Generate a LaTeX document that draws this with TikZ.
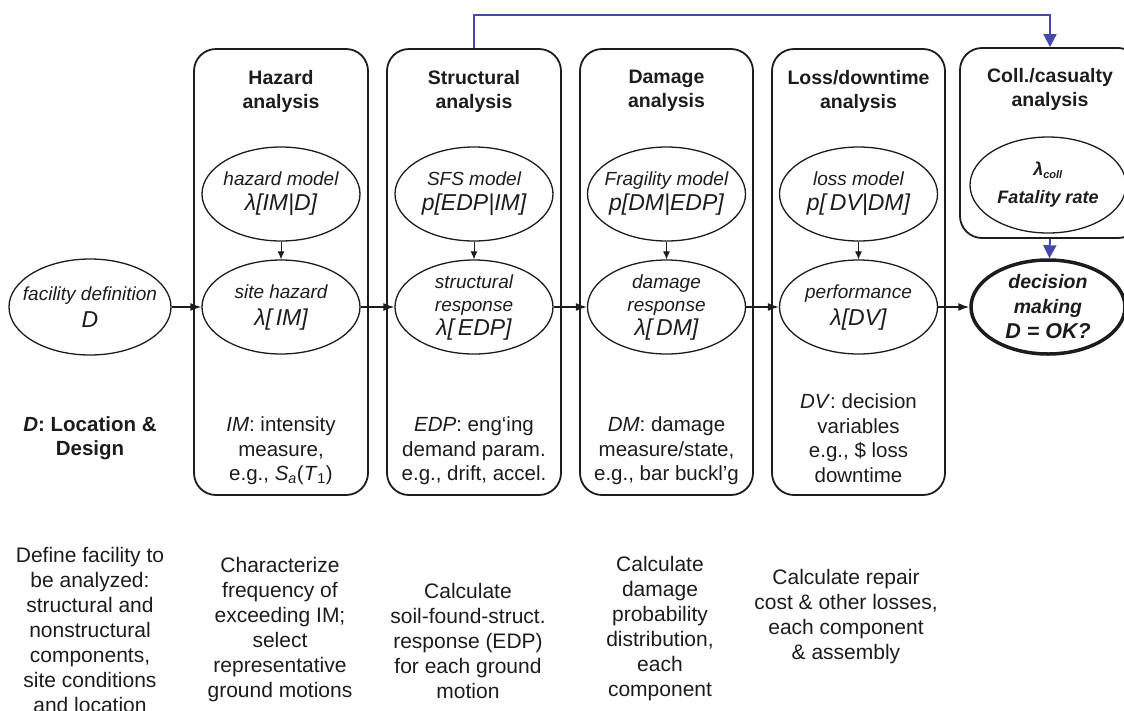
\documentclass[tikz,border=0pt]{standalone}
\usepackage{fontspec}
\setmainfont{Liberation Sans}
\usetikzlibrary{arrows.meta,shapes.geometric}
\definecolor{ink}{RGB}{28,28,28}
\definecolor{linkblue}{RGB}{72,72,170}

\newcommand{\bg}[1]{{\fontsize{23}{26}\selectfont #1}}

\begin{document}
\begin{tikzpicture}[x=1pt,y=-1pt,
  stage/.style={draw=ink, line width=1.8pt, rounded corners=22pt, rectangle, inner sep=0pt},
  oval/.style={draw=ink, line width=1.3pt, ellipse, inner sep=0pt,
               minimum width=158pt, minimum height=94pt},
  inoval/.style={font=\fontsize{19}{25}\selectfont\itshape, text=ink, align=center, inner sep=0pt},
  boldoval/.style={font=\fontsize{19.5}{25}\selectfont\bfseries\itshape, text=ink, align=center, inner sep=0pt},
  heading/.style={font=\fontsize{19.5}{24}\selectfont\bfseries, text=ink, align=center, inner sep=0pt},
  note/.style={font=\fontsize{20.5}{24.5}\selectfont, text=ink, align=center, inner sep=0pt},
  task/.style={font=\fontsize{21}{25}\selectfont, text=ink, align=center, inner sep=0pt},
  flow/.style={draw=ink, line width=1.4pt, -{Latex[length=11pt,width=8pt]}},
  drop/.style={draw=ink, line width=1pt, -{Latex[length=8pt,width=7pt]}},
  link/.style={draw=linkblue, line width=1.8pt, -{Triangle[length=13pt,width=13pt]}}
]
\useasboundingbox (0,0) rectangle (1124,710);

% analysis stages
\node[stage, minimum width=174pt, minimum height=446pt] (hbox) at (281,272) {};
\node[stage, minimum width=174pt, minimum height=446pt] (sbox) at (474,272) {};
\node[stage, minimum width=173pt, minimum height=446pt] (dbox) at (666.5,272) {};
\node[stage, minimum width=173pt, minimum height=446pt] (lbox) at (858.5,272) {};
\node[stage, minimum width=180pt, minimum height=190pt] (cbox) at (1050,143) {};

% stage headings
\node[heading] (ht) at (281,91) {Hazard\\analysis};
\node[heading] (st) at (474,91) {Structural\\analysis};
\node[heading] (dt) at (666.5,91) {Damage\\analysis};
\node[heading] (lt) at (858.5,91) {Loss/downtime\\analysis};
\node[heading] (ct) at (1050,89) {Coll./casualty\\analysis};

% model ellipses
\node[oval] (hm) at (281,194) {};
\node[inoval] (hmt) at (hm.center) {hazard model\\\bg{λ[IM|D]}};
\node[oval] (sfs) at (474,194) {};
\node[inoval] (sfst) at (sfs.center) {SFS model\\\bg{p[EDP|IM]}};
\node[oval] (fm) at (666.5,194) {};
\node[inoval] (fmt) at (fm.center) {Fragility model\\\bg{p[DM|EDP]}};
\node[oval] (lm) at (858.5,194) {};
\node[inoval] (lmt) at (lm.center) {loss model\\\bg{p[\,DV|DM]}};
\node[oval, minimum width=156pt, minimum height=96pt] (cl) at (1048,185) {};
\node[boldoval, font=\fontsize{18}{28}\selectfont\bfseries\itshape] (clt) at (cl.center)
  {λ\textsubscript{\fontsize{11}{12}\selectfont coll}\\Fatality rate};

% response ellipses
\node[oval, minimum width=162pt, minimum height=96pt] (fac) at (90,307) {};
\node[inoval, font=\fontsize{19}{27}\selectfont\itshape] (fact) at (fac.center) {facility definition\\\bg{D}};
\node[oval] (sh) at (281,307) {};
\node[inoval, font=\fontsize{19}{27}\selectfont\itshape] (sht) at (sh.center) {site hazard\\\bg{λ[\,IM]}};
\node[oval] (sr) at (474,307) {};
\node[inoval, font=\fontsize{19}{23.5}\selectfont\itshape] (srt) at (sr.center) {structural\\response\\\bg{λ[\,EDP]}};
\node[oval] (dr) at (666.5,307) {};
\node[inoval, font=\fontsize{19}{23.5}\selectfont\itshape] (drt) at (dr.center) {damage\\response\\\bg{λ[\,DM]}};
\node[oval] (pf) at (858.5,307) {};
\node[inoval, font=\fontsize{19}{27}\selectfont\itshape] (pft) at (pf.center) {performance\\\bg{λ[DV]}};
\node[oval, line width=3.5pt, minimum width=154pt, minimum height=94pt] (dec) at (1048,307) {};
\node[boldoval] (dect) at (dec.center)
  {decision\\making\\{\fontsize{21.5}{25}\selectfont D = OK?}};

% variable notes
\node[note, font=\fontsize{20.5}{24.5}\selectfont\bfseries] (dn) at (90,438) {\textit{D}: Location \&\\Design};
\node[note] (hn) at (281,451) {\textit{IM}: intensity\\measure,\\e.g., \textit{S}\textsubscript{\textit{a}}(\textit{T}\textsubscript{1})};
\node[note] (sn) at (474,451) {\textit{EDP}: eng‘ing\\demand param.\\e.g., drift, accel.};
\node[note] (dnn) at (666.5,451) {\textit{DM}: damage\\measure/state,\\e.g., bar buckl’g};
\node[note] (ln) at (858.5,438) {\textit{DV}: decision\\variables\\e.g., \$ loss\\downtime};

% task descriptions
\node[task] (dtask) at (90,630) {Define facility to\\be analyzed:\\structural and\\nonstructural\\components,\\site conditions\\and location};
\node[task] (htask) at (280,630) {Characterize\\frequency of\\exceeding IM;\\select\\representative\\ground motions};
\node[task] (stask) at (468,641) {Calculate\\soil-found-struct.\\response (EDP)\\for each ground\\motion};
\node[task] (dmtask) at (660,629) {Calculate\\damage\\probability\\distribution,\\each\\component};
\node[task] (ltask) at (846,617) {Calculate repair\\cost \& other losses,\\each component\\\& assembly};

% main chain
\draw[flow] (fac) -- (sh);
\draw[flow] (sh) -- (sr);
\draw[flow] (sr) -- (dr);
\draw[flow] (dr) -- (pf);
\draw[flow] (pf) -- (dec);

% model feeds
\draw[drop] (hm) -- (sh);
\draw[drop] (sfs) -- (sr);
\draw[drop] (fm) -- (dr);
\draw[drop] (lm) -- (pf);

% collapse branch
\draw[link] (sbox.north) -- ++(0,-33) -| (cbox.north);
\draw[link] (cbox.south) -- (dec);
\end{tikzpicture}
\end{document}
